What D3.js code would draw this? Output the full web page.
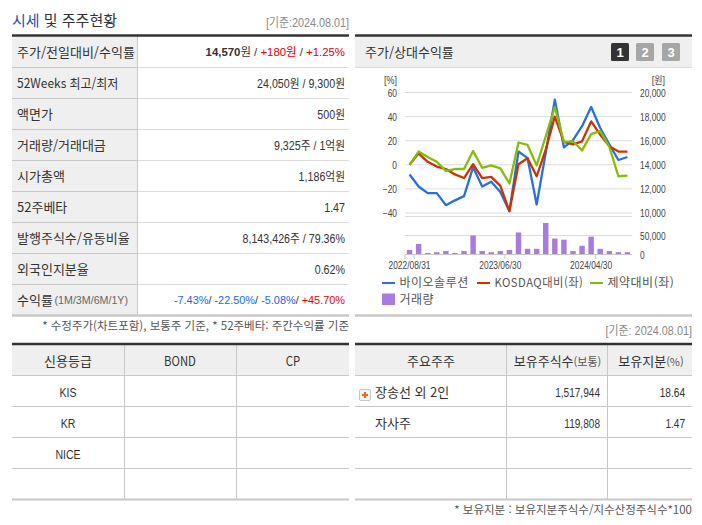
<!DOCTYPE html>
<html lang="ko">
<head>
<meta charset="utf-8">
<script src="https://cdn.jsdelivr.net/npm/d3@7"></script>
<style>
  html, body { margin: 0; padding: 0; background: #fff; }
  svg { display: block; }
  text { font-family: "Noto Sans CJK KR", "Liberation Sans", sans-serif; fill: #333; white-space: pre; }
  .num { font-family: "Liberation Sans", "Noto Sans CJK KR", sans-serif; }
  .axis path, .axis line { display: none; }
  .axis text { font-family: "Liberation Sans", sans-serif; font-size: 10px; fill: #444; }
</style>
</head>
<body>
<div id="chart"></div>
<script>
// chart data
var dates = ["2022/08/31","2022/09/30","2022/10/31","2022/11/30","2022/12/29","2023/01/31","2023/02/28",
  "2023/03/31","2023/04/28","2023/05/31","2023/06/30","2023/07/31","2023/08/31","2023/09/27","2023/10/31",
  "2023/11/30","2023/12/28","2024/01/31","2024/02/29","2024/03/29","2024/04/30","2024/05/31","2024/06/28",
  "2024/07/31","2024/08/01"];
var bio = [-8,-18,-23.5,-23.5,-33.5,-29.5,-26,-2,-18,-14,-22.5,-38.5,11,5.5,-33,10,54,14.5,20.5,32,48,30.5,17,4,6.5];
var kosdaq = [0,9.5,2.5,-1.5,-3.5,-8,-11,0.5,-11,-10,-17.5,-38.5,0.5,5.5,-9.5,12.5,40,19,17,19.5,36,25,15.5,11,11];
var pharma = [0,11,6.5,2.5,-5,-3.5,-3.5,11.5,-2.5,-0.5,-3,-15.5,18.5,16.5,-0.5,23.5,48,19,19.5,12,25.5,28,15,-9.5,-9];
var volume = [12000,28000,4000,6000,9000,4000,9000,50000,9000,6000,9000,12000,58000,15000,15000,83000,42000,39000,9000,23000,47000,15000,9000,6000,6000];

var pctTicks = [60,40,20,0,-20,-40];
var wonTicks = [20000,18000,16000,14000,12000,10000];
var volTicks = [50000,0];
var dateTicks = ["2022/08/31","2023/06/30","2024/04/30"];

var seriesNames = ["바이오솔루션","KOSDAQ대비(좌)","제약대비(좌)"];
var seriesColors = ["#2a6fdb","#cc3300","#85bc0a"];
var barColor = "#a97bdc";

// table text
var summaryLabels = ["주가/전일대비/수익률","52Weeks 최고/최저","액면가","거래량/거래대금","시가총액","52주베타","발행주식수/유동비율","외국인지분율","수익률"];
var summaryValues = [
  [["14,570","b"],["원 / ",""],["+180원","r"],[" / ",""],["+1.25%","r"]],
  [["24,050원 / 9,300원",""]],
  [["500원",""]],
  [["9,325주 / 1억원",""]],
  [["1,186억원",""]],
  [["1.47",""]],
  [["8,143,426주 / 79.36%",""]],
  [["0.62%",""]],
  [["-7.43%","u"],["/ ",""],["-22.50%","u"],["/ ",""],["-5.08%","u"],["/ ",""],["+45.70%","r"]]
];
var valueColors = { "": "#333", b: "#333", r: "#e00000", u: "#1668e3" };
var creditHead = ["신용등급","BOND","CP"];
var creditRows = ["KIS","KR","NICE",""];
var holderHead = ["주요주주","보유주식수","보유지분"];
var holderNames = ["장송선 외 2인","자사주"];
var holderShares = ["1,517,944","119,808"];
var holderPct = ["18.64","1.47"];

var svg = d3.select("#chart").append("svg").attr("width", 702).attr("height", 525);

function hline(x1, x2, y, color, w) {
  svg.append("line").attr("x1", x1).attr("x2", x2).attr("y1", y).attr("y2", y)
    .attr("stroke", color).attr("stroke-width", w || 1);
}
function vline(x, y1, y2, color) {
  svg.append("line").attr("x1", x).attr("x2", x).attr("y1", y1).attr("y2", y2).attr("stroke", color);
}
function label(x, y, str, size, anchor, color, cls) {
  return svg.append("text").attr("x", x).attr("y", y).attr("dy", "0.35em")
    .attr("text-anchor", anchor || "start").attr("font-size", size)
    .attr("class", cls || null).style("fill", color || "#333").text(str);
}
// the original font is narrower than anything installed, so condense the glyphs
function squeeze(sel, factor) {
  sel.each(function () {
    d3.select(this).attr("lengthAdjust", "spacingAndGlyphs")
      .attr("textLength", this.getComputedTextLength() * factor);
  });
  return sel;
}

// ---- title row
var title = svg.append("text").attr("x", 12).attr("y", 21).attr("dy", "0.35em").attr("font-size", 15);
title.append("tspan").style("fill", "#2b4fa8").text("시세");
title.append("tspan").text(" 및 주주현황");
squeeze(label(349, 23, "[기준:2024.08.01]", 12, "end", "#888", "num"), 0.9);

// ---- summary table
var rowTop = 36.5, rowH = 31, colX = 137.5;
svg.append("rect").attr("x", 12).attr("y", rowTop).attr("width", colX - 12).attr("height", rowH * 9 - 1).attr("fill", "#efefef");
summaryLabels.forEach(function (d, i) {
  var y = rowTop + rowH * (i + 1);
  if (i < 8) {
    hline(137, 349, y, "#dcdcdc");
    hline(12, 137, y, "#c8c8c8");
  }
  var t = label(17, y - 15, d, 13);
  if (i == 1) squeeze(t, 0.92);
  if (i == 8) {
    // unit note sits after the label as its own text
    squeeze(label(54.5, y - 15, "(1M/3M/6M/1Y)", 11, "start", "#666", "num"), 0.97);
  }
  if (summaryValues[i].length > 1) {
    // coloured rows: parts laid out right to left, each as its own text
    var cursor = 345;
    summaryValues[i].slice().reverse().forEach(function (p) {
      var s = label(cursor, y - 15, p[0], i == 0 ? 11.4 : 10.9, "end", valueColors[p[1]], "num");
      if (p[1] == "b") s.attr("font-weight", "bold");
      cursor -= s.node().getComputedTextLength();
    });
  } else {
    squeeze(label(345, y - 15, summaryValues[i][0][0], 12, "end", "#333", "num"), 0.89);
  }
});
vline(137.5, 36, 315, "#c8c8c8");
hline(12, 349, 35.5, "#333", 2.5);
hline(12, 349, 315.5, "#c8c8c8", 2.5);
label(349, 326, "* 수정주가(차트포함), 보통주 기준, * 52주베타: 주간수익률 기준", 11.5, "end", "#555");

// ---- chart panel
svg.append("rect").attr("x", 355).attr("y", 36).attr("width", 337).attr("height", 31).attr("fill", "#efefef");
hline(355, 692, 35.5, "#333", 2.5);
hline(355, 692, 67.5, "#dcdcdc");
hline(355, 692, 315.5, "#c8c8c8", 2.5);
label(365, 52, "주가/상대수익률", 13);
["1","2","3"].forEach(function (d, i) {
  var bx = [611, 636, 662][i];
  svg.append("rect").attr("x", bx).attr("y", 43).attr("width", 18).attr("height", 18).attr("rx", 1.5)
    .attr("fill", i == 0 ? "#333" : "#a6a6a6");
  label(bx + 9, 52, d, 13, "middle", "#fff", "num").attr("font-weight", "bold");
});

var x = d3.scaleBand().domain(dates).range([405, 632]).paddingInner(0.4).paddingOuter(0.2);
var yPct = d3.scaleLinear().domain([-40, 60]).range([213, 92.5]);
var yWon = d3.scaleLinear().domain([10000, 20000]).range([213, 92.5]);
var yVol = d3.scaleLinear().domain([0, 100000]).range([254.5, 216.5]);

// gridlines
svg.append("g").selectAll("line").data(pctTicks).join("line")
  .attr("x1", 405).attr("x2", 632)
  .attr("y1", function (d) { return yPct(d); }).attr("y2", function (d) { return yPct(d); })
  .attr("stroke", "#dcdcdc");
svg.append("g").selectAll("line").data([100000, 50000]).join("line")
  .attr("x1", 405).attr("x2", 632)
  .attr("y1", function (d) { return yVol(d); }).attr("y2", function (d) { return yVol(d); })
  .attr("stroke", "#dcdcdc");

// axes
svg.append("g").attr("class", "axis").attr("transform", "translate(405,0.5)")
  .call(d3.axisLeft(yPct).tickValues(pctTicks).tickSize(0).tickPadding(8));
svg.append("g").attr("class", "axis").attr("transform", "translate(632,0.5)")
  .call(d3.axisRight(yWon).tickValues(wonTicks).tickSize(0).tickPadding(8).tickFormat(d3.format(",")));
svg.append("g").attr("class", "axis").attr("transform", "translate(632,0.5)")
  .call(d3.axisRight(yVol).tickValues(volTicks).tickSize(0).tickPadding(8).tickFormat(d3.format(",")));
squeeze(svg.selectAll(".axis text"), 0.84);
squeeze(label(397, 80, "[%]", 10, "end", "#444", "num"), 0.9);
squeeze(label(665, 80, "[원]", 10, "end", "#444", "num"), 0.9);

// volume bars
svg.append("g").selectAll("rect").data(volume).join("rect")
  .attr("x", function (d, i) { return x(dates[i]); })
  .attr("width", x.bandwidth())
  .attr("y", function (d) { return yVol(d); })
  .attr("height", function (d) { return yVol(0) - yVol(d); })
  .attr("fill", barColor);

// date axis
hline(405, 632, 254.5, "#c8c8c8");
var step = x.step();
vline(405, 254.5, 259, "#c8c8c8");
dateTicks.forEach(function (d) {
  var cx = x(d) + x.bandwidth() / 2;
  vline(cx + step / 2, 254.5, 259, "#c8c8c8");
  squeeze(label(cx, 265.5, d, 10, "middle", "#444", "num"), 0.84);
});

// lines
var line = d3.line()
  .x(function (d, i) { return x(dates[i]) + x.bandwidth() / 2; })
  .y(function (d) { return yPct(d); });
[bio, kosdaq, pharma].forEach(function (s, i) {
  svg.append("path").attr("d", line(s)).attr("fill", "none")
    .attr("stroke", seriesColors[i]).attr("stroke-width", 2.3).attr("stroke-linejoin", "round");
});

// legend
var legendX = [382, 477, 590];
seriesNames.forEach(function (d, i) {
  svg.append("rect").attr("x", legendX[i]).attr("y", 282).attr("width", 13).attr("height", 2).attr("fill", seriesColors[i]);
  var t = label(legendX[i] + 17.5, 282.5, d, 12, "start", "#555").attr("letter-spacing", 0.5);
  if (i == 1) squeeze(t, 0.94);
});
svg.append("rect").attr("x", 382).attr("y", 293.5).attr("width", 13).attr("height", 11.5).attr("fill", barColor);
label(399.5, 300, "거래량", 12, "start", "#555").attr("letter-spacing", 0.5);

// ---- lower tables
function lowerTable(x1, x2, cols) {
  svg.append("rect").attr("x", x1).attr("y", 345).attr("width", x2 - x1).attr("height", 30).attr("fill", "#efefef");
  [375.5, 406.5, 437.5, 468.5].forEach(function (y) { hline(x1, x2, y, "#c8c8c8"); });
  cols.forEach(function (c) { vline(c, 345, 499, "#c8c8c8"); });
  hline(x1, x2, 344, "#333", 2.5);
  hline(x1, x2, 499.5, "#c8c8c8", 2);
}
lowerTable(12, 349, [124.5, 236.5]);
lowerTable(355, 692, [506.5, 607.5]);

[68, 180, 293].forEach(function (cx, i) {
  var t = label(cx, 361, creditHead[i], 13, "middle");
  if (i > 0) squeeze(t, 0.87);
});
creditRows.forEach(function (d, i) {
  if (d) squeeze(label(68, 392.5 + 31 * i, d, 12, "middle", "#333", "num"), 0.88);
});

label(431, 361, holderHead[0], 13, "middle");
var h1 = label(557.5, 361, holderHead[1], 13, "middle");
h1.append("tspan").attr("font-size", 11).style("fill", "#555").text("(보통)");
var h2 = label(651, 361, holderHead[2], 13, "middle");
h2.append("tspan").attr("font-size", 11).style("fill", "#555").text("(%)");

holderNames.forEach(function (d, i) {
  var y = 392.5 + 31 * i;
  label(375, y, d, 13);
  squeeze(label(600, y, holderShares[i], 12, "end", "#333", "num"), 0.84);
  squeeze(label(685, y, holderPct[i], 12, "end", "#333", "num"), 0.84);
});

// expand icon next to the first holder
svg.append("rect").attr("x", 359.5).attr("y", 389.5).attr("width", 11).attr("height", 11).attr("rx", 1.5)
  .attr("fill", "#f4f4f4").attr("stroke", "#c4c4c4");
svg.append("path").attr("d", "M365 392v6M362 395h6").attr("stroke", "#f26a10").attr("stroke-width", 2);

squeeze(label(692, 331, "[기준: 2024.08.01]", 12, "end", "#888", "num"), 0.905);
label(692, 510, "* 보유지분 : 보유지분주식수/지수산정주식수*100", 11.5, "end", "#555");
</script>
</body>
</html>
